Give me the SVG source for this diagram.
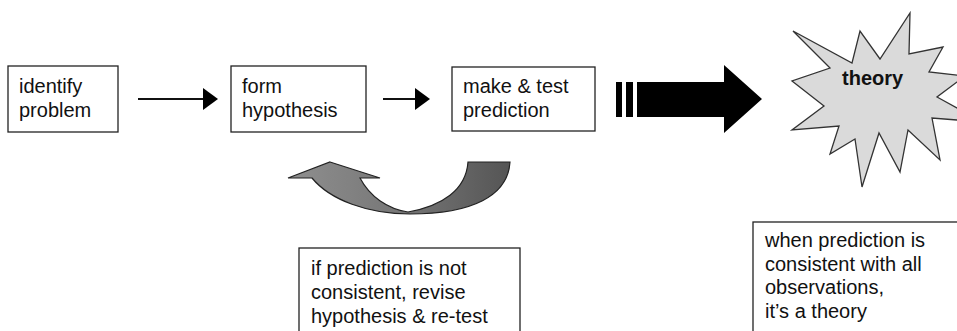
<svg xmlns="http://www.w3.org/2000/svg" width="957" height="331" viewBox="0 0 957 331">
<style>
.box{fill:#fff;stroke:#222;stroke-width:1.3}
.t{font-family:"Liberation Sans",Arial,sans-serif;font-size:20px;fill:#111}
.tb{font-family:"Liberation Sans",Arial,sans-serif;font-size:20px;font-weight:bold;fill:#111}
.ln{stroke:#111;stroke-width:2;fill:none}
</style>
<defs>
<marker id="ah" markerWidth="16" markerHeight="22" refX="0" refY="11" orient="auto" markerUnits="userSpaceOnUse">
<path d="M0,0 L15,11 L0,22 Z" fill="#000"/>
</marker>
<linearGradient id="cg" x1="0" y1="0" x2="1" y2="0">
<stop offset="0" stop-color="#8f8f8f"/>
<stop offset="0.5" stop-color="#777"/>
<stop offset="1" stop-color="#555"/>
</linearGradient>
</defs>
<rect width="957" height="331" fill="#fff"/>
<g id="connectors">
<line class="ln" x1="138" y1="99" x2="203" y2="99" marker-end="url(#ah)"/>
<line class="ln" x1="383" y1="99" x2="415" y2="99" marker-end="url(#ah)"/>
<g id="big-arrow" fill="#000">
<rect x="616" y="82" width="6" height="35"/>
<rect x="626" y="82" width="7" height="35"/>
<path d="M637,82 L724,82 L724,65 L762,99 L724,133 L724,117 L637,117 Z"/>
</g>
<path id="loop-arrow" d="M330,162 L380,178 L360,178 C370,197 388,209 408,212 C442,206 466,190 468,162 L510,162 C508,196 472,214 410,214 C368,214 330,200 312,178 L288,178 Z" fill="url(#cg)" stroke="#222" stroke-width="1.2"/>
</g>
<g id="identify">
<rect class="box" x="8" y="66" width="110" height="66"/>
<text class="t" x="19" y="93">identify</text>
<text class="t" x="19" y="117">problem</text>
</g>
<g id="hypothesis">
<rect class="box" x="231" y="66" width="135" height="66"/>
<text class="t" x="242" y="93">form</text>
<text class="t" x="242" y="117">hypothesis</text>
</g>
<g id="prediction">
<rect class="box" x="452" y="67" width="143" height="64"/>
<text class="t" x="463" y="93">make &amp; test</text>
<text class="t" x="463" y="117">prediction</text>
</g>
<g id="theory">
<path d="M793,31 L852,63 L860,31 L880,59 L910,13 L909,54 L943,47 L929,72 L965,76 L937,97 L982,122 L932,118 L940,160 L908,130 L900,172 L879,133 L862,187 L855,139 L830,154 L839,126 L792,130 L824,106 L792,81 L830,68 Z" fill="#dadada" stroke="#333" stroke-width="1.3"/>
<text class="tb" x="842" y="85">theory</text>
</g>
<g id="revise">
<rect class="box" x="299" y="248" width="221" height="90"/>
<text class="t" x="311" y="275">if prediction is not</text>
<text class="t" x="311" y="299">consistent, revise</text>
<text class="t" x="311" y="323">hypothesis &amp; re-test</text>
</g>
<g id="consistent">
<rect class="box" x="753" y="222" width="210" height="115"/>
<text class="t" x="765" y="247">when prediction is</text>
<text class="t" x="765" y="271">consistent with all</text>
<text class="t" x="765" y="294">observations,</text>
<text class="t" x="765" y="318">it’s a theory</text>
</g>
</svg>
